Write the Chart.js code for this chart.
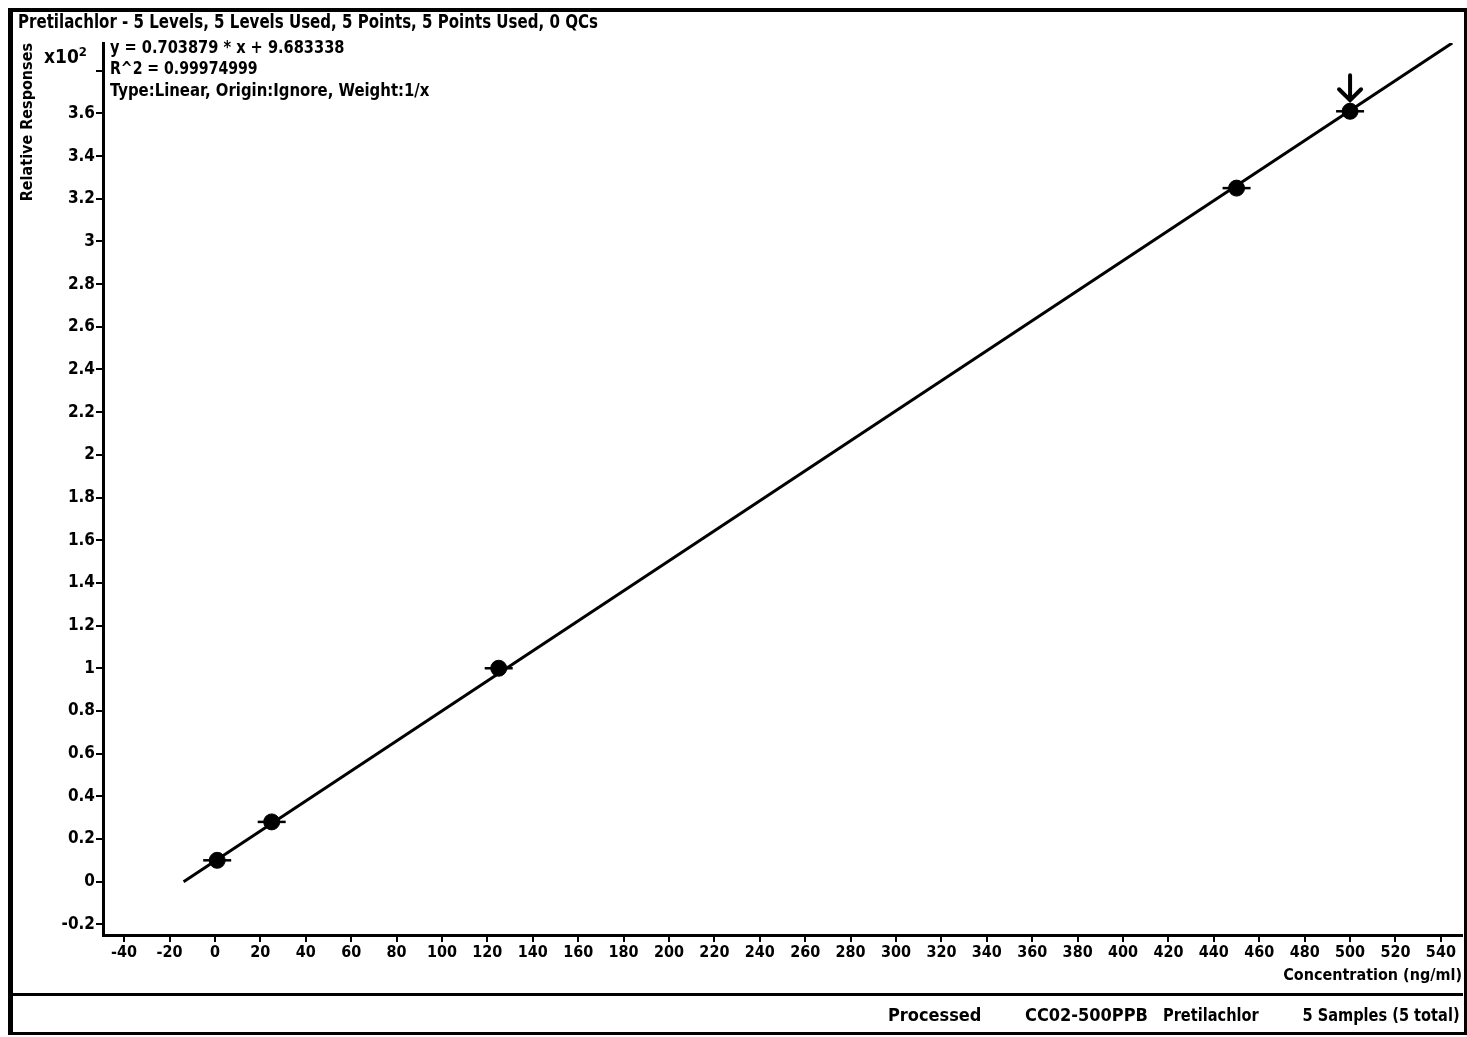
<!DOCTYPE html>
<html lang="en">
<head>
  <meta charset="UTF-8">
  <title>Pretilachlor calibration</title>
  <script src="https://cdn.jsdelivr.net/npm/chart.js"></script>
  <style>
    body {
        margin: 0;
        background: #ffffff;
        overflow: hidden;
        font-family: 'DejaVu Sans Condensed', 'Liberation Sans', sans-serif;
        font-weight: bold;
        color: #000;
    }
    .frame {
        position: absolute;
        left: 8px;
        top: 8px;
        width: 1451px;
        height: 1020px;
        border-top: 4px solid #000;
        border-left: 5px solid #000;
        border-right: 3px solid #000;
        border-bottom: 3px solid #000;
    }
    .sep {
        position: absolute;
        left: 12px;
        top: 993px;
        width: 1451px;
        height: 3px;
        background: #000;
    }
    .chart-box {
        position: absolute;
        left: 0;
        top: 0;
        width: 1467px;
        height: 1037px;
    }
    .txt {
        position: absolute;
        white-space: nowrap;
        font-size: 18px;
        line-height: 20px;
        transform-origin: left center;
        transform: scaleX(0.9);
    }
    .txt.r {
        transform-origin: right center;
    }
  </style>
</head>
<body>
  <div class="frame"></div>
  <div class="sep"></div>
  <div class="chart-box"><canvas id="calChart"></canvas></div>

  <!-- header and fit info -->
  <div class="txt" style="left:18px; top:11px; font-size:19px; transform:scaleX(0.88);">Pretilachlor - 5 Levels, 5 Levels Used, 5 Points, 5 Points Used, 0 QCs</div>
  <div class="txt" style="left:44px; top:42px; font-size:19px; transform:none;">x10<sup style="font-size:13px;">2</sup></div>
  <div class="txt" style="left:110px; top:37px;">y = 0.703879 * x + 9.683338</div>
  <div class="txt" style="left:110px; top:58px; transform:scaleX(0.87);">R^2 = 0.99974999</div>
  <div class="txt" style="left:110px; top:80px; transform:scaleX(0.92);">Type:Linear, Origin:Ignore, Weight:1/x</div>

  <!-- footer -->
  <div class="txt" style="left:888px; top:1005px; transform:none;">Processed</div>
  <div class="txt" style="left:1025px; top:1005px; transform:none;">CC02-500PPB</div>
  <div class="txt" style="left:1163px; top:1005px;">Pretilachlor</div>
  <div class="txt r" style="right:7px; top:1005px;">5 Samples (5 total)</div>

  <script>
    // calibration points (concentration ng/ml, response x10^2)
    const concentrations = [1, 25, 125, 450, 500];
    const responses = [0.10, 0.28, 1.00, 3.25, 3.61];
    const flaggedIndex = 4; // point marked with the arrow

    // fitted line end points
    const fitX = [-13.8, 545];
    const fitY = [0.0, 3.93];

    const xTicks = [-40, -20, 0, 20, 40, 60, 80, 100, 120, 140, 160, 180, 200, 220, 240, 260, 280,
                    300, 320, 340, 360, 380, 400, 420, 440, 460, 480, 500, 520, 540];
    const yTicks = [-0.2, 0, 0.2, 0.4, 0.6, 0.8, 1, 1.2, 1.4, 1.6, 1.8, 2, 2.2, 2.4, 2.6, 2.8,
                    3, 3.2, 3.4, 3.6, 3.8];
    const yTickLabels = ['-0.2', '0', '0.2', '0.4', '0.6', '0.8', '1', '1.2', '1.4', '1.6', '1.8', '2',
                         '2.2', '2.4', '2.6', '2.8', '3', '3.2', '3.4', '3.6', ''];

    const fontFam = "'DejaVu Sans Condensed', 'Liberation Sans', sans-serif";

    const points = concentrations.map((c, i) => ({ x: c, y: responses[i] }));
    const fitPoints = fitX.map((c, i) => ({ x: c, y: fitY[i] }));

    // arrow over the flagged point
    const arrowPlugin = {
      id: 'arrow',
      afterDatasetsDraw(chart) {
        const pt = chart.getDatasetMeta(0).data[flaggedIndex];
        if (!pt) return;
        const ctx = chart.ctx;
        ctx.save();
        ctx.strokeStyle = '#000';
        ctx.lineWidth = 4;
        ctx.lineCap = 'round';
        ctx.beginPath();
        ctx.moveTo(pt.x, pt.y - 36);
        ctx.lineTo(pt.x, pt.y - 11);
        ctx.moveTo(pt.x - 11, pt.y - 22);
        ctx.lineTo(pt.x, pt.y - 11);
        ctx.lineTo(pt.x + 11, pt.y - 22);
        ctx.stroke();
        ctx.restore();
      }
    };

    window.onload = function() {
      const ctx = document.getElementById('calChart').getContext('2d');
      new Chart(ctx, {
        type: 'scatter',
        data: {
          datasets: [
            {
              label: 'Points',
              data: points,
              pointStyle: 'circle',
              pointRadius: 8,
              pointBackgroundColor: '#000',
              pointBorderColor: '#000',
              order: 0
            },
            {
              label: 'Bars',
              data: points,
              pointStyle: 'line',
              pointRadius: 14,
              pointBorderWidth: 2.5,
              pointBorderColor: '#000',
              order: 1
            },
            {
              label: 'Fit',
              type: 'line',
              data: fitPoints,
              borderColor: '#000',
              borderWidth: 3,
              pointRadius: 0,
              fill: false,
              order: 2
            }
          ]
        },
        options: {
          responsive: true,
          maintainAspectRatio: false,
          animation: false,
          layout: {
            autoPadding: false,
            padding: { left: 18, top: 43, right: 5, bottom: 45 }
          },
          plugins: {
            legend: { display: false },
            tooltip: { enabled: false }
          },
          scales: {
            x: {
              type: 'linear',
              min: -49.3,
              max: 549.3,
              afterBuildTicks: s => { s.ticks = xTicks.map(v => ({ value: v })); },
              afterFit: s => { s.height = 57; s.paddingLeft = 0; s.paddingRight = 0; },
              ticks: {
                color: '#000',
                font: { family: fontFam, size: 16, weight: 'bold' },
                padding: 1,
                maxRotation: 0,
                autoSkip: false
              },
              grid: { drawOnChartArea: false, drawTicks: true, tickLength: 7, color: '#000', lineWidth: 2 },
              border: { color: '#000', width: 3 },
              title: {
                display: true,
                text: 'Concentration (ng/ml)',
                align: 'end',
                color: '#000',
                font: { family: fontFam, size: 16, weight: 'bold' },
                padding: { top: 0, bottom: 7 }
              }
            },
            y: {
              type: 'linear',
              min: -0.25,
              max: 3.93,
              afterBuildTicks: s => { s.ticks = yTicks.map(v => ({ value: v })); },
              afterFit: s => { s.width = 85; s.paddingTop = 0; s.paddingBottom = 0; },
              ticks: {
                color: '#000',
                font: { family: fontFam, size: 17, weight: 'bold' },
                padding: 1,
                autoSkip: false,
                callback: (v) => {
                  const i = yTicks.findIndex(t => Math.abs(t - v) < 1e-6);
                  return i >= 0 ? yTickLabels[i] : '';
                }
              },
              grid: { drawOnChartArea: false, drawTicks: true, tickLength: 7, color: '#000', lineWidth: 2 },
              border: { color: '#000', width: 3 },
              title: {
                display: true,
                text: 'Relative Responses',
                align: 'end',
                color: '#000',
                font: { family: fontFam, size: 16, weight: 'bold' },
                padding: 0
              }
            }
          }
        },
        plugins: [arrowPlugin]
      });
    };
  </script>
</body>
</html>
